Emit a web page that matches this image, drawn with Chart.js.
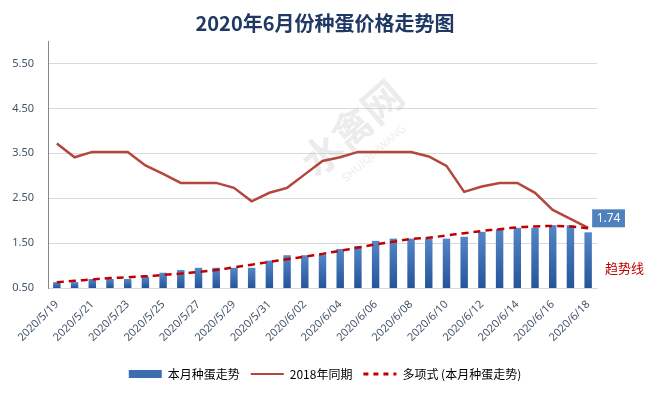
<!DOCTYPE html>
<html>
<head>
<meta charset="utf-8">
<script src="https://cdn.jsdelivr.net/npm/chart.js@4.4.1/dist/chart.umd.min.js"></script>
<style>
  html, body { margin: 0; padding: 0; background: #fff; }
</style>
</head>
<body>
<canvas id="myChart" width="650" height="395"></canvas>
<script>
// dates on the x axis (one per day)
const dates = [
  '2020/5/19', '2020/5/20', '2020/5/21', '2020/5/22', '2020/5/23', '2020/5/24',
  '2020/5/25', '2020/5/26', '2020/5/27', '2020/5/28', '2020/5/29', '2020/5/30',
  '2020/5/31', '2020/6/01', '2020/6/02', '2020/6/03', '2020/6/04', '2020/6/05',
  '2020/6/06', '2020/6/07', '2020/6/08', '2020/6/09', '2020/6/10', '2020/6/11',
  '2020/6/12', '2020/6/13', '2020/6/14', '2020/6/15', '2020/6/16', '2020/6/17',
  '2020/6/18'
]
// 本月种蛋走势 (bars)
const eggPrice = [
  0.63, 0.63, 0.70, 0.70, 0.70, 0.75, 0.84, 0.90, 0.95, 0.95, 0.95, 0.95,
  1.11, 1.23, 1.23, 1.24, 1.37, 1.43, 1.55, 1.60, 1.60, 1.60, 1.60, 1.64,
  1.75, 1.81, 1.84, 1.84, 1.90, 1.90, 1.74
]
// 2018年同期
const lastYear = [
  3.72, 3.41, 3.53, 3.53, 3.53, 3.23, 3.04, 2.84, 2.84, 2.84, 2.73, 2.43,
  2.62, 2.73, 3.03, 3.33, 3.41, 3.53, 3.53, 3.53, 3.53, 3.43, 3.22, 2.64,
  2.76, 2.84, 2.84, 2.62, 2.24, 2.04, 1.84
]
// 多项式 (本月种蛋走势)
const trendLine = [
  0.63, 0.66, 0.69, 0.72, 0.74, 0.76, 0.79, 0.82, 0.86, 0.90, 0.96, 1.02,
  1.08, 1.14, 1.20, 1.26, 1.33, 1.40, 1.47, 1.53, 1.59, 1.62, 1.67, 1.72,
  1.77, 1.81, 1.85, 1.87, 1.88, 1.87, 1.83
]
const yTicks = [0.5, 1.5, 2.5, 3.5, 4.5, 5.5]
const yMin = 0.5
const yMax = 6.0

const seriesNames = ['本月种蛋走势', '2018年同期', '多项式 (本月种蛋走势)']
const barTop = '#5487C6'
const barBottom = '#25549A'
const lineRed = '#B4463C'
const trendRed = '#C00000'

function barFill(context) {
  const chart = context.chart
  if (!chart.chartArea || context.dataIndex === undefined) return barTop
  const y = chart.scales.y
  const top = y.getPixelForValue(eggPrice[context.dataIndex])
  const bottom = y.getPixelForValue(yMin)
  if (!isFinite(top) || !isFinite(bottom) || top === bottom) return barTop
  const g = chart.ctx.createLinearGradient(0, top, 0, bottom)
  g.addColorStop(0, barTop)
  g.addColorStop(1, barBottom)
  return g
}

// faint watermark + the "1.74" label + 趋势线 note
const extras = {
  id: 'extras',
  beforeDatasetsDraw(chart) {
    const ctx = chart.ctx
    ctx.save()
    ctx.translate(352, 128)
    ctx.rotate(-0.72)
    ctx.fillStyle = 'rgba(200,200,200,0.35)'
    ctx.font = 'bold 40px "Noto Sans CJK SC"'
    ctx.textAlign = 'center'
    ctx.textBaseline = 'middle'
    ctx.fillText('水禽网', 0, 0)
    ctx.font = '11px "Noto Sans"'
    ctx.fillText('SHUIQINWANG', 0, 34)
    ctx.restore()
  },
  afterDatasetsDraw(chart) {
    const ctx = chart.ctx
    const meta = chart.getDatasetMeta(0)
    const last = meta.data[meta.data.length - 1]
    const txt = eggPrice[eggPrice.length - 1].toFixed(2)
    ctx.save()
    ctx.font = '12px "Noto Sans"'
    const w = ctx.measureText(txt).width + 9
    const bx = last.x + 4
    const by = last.y - 23
    ctx.fillStyle = '#4F81BD'
    ctx.fillRect(bx, by, w, 18)
    ctx.fillStyle = '#fff'
    ctx.textBaseline = 'middle'
    ctx.fillText(txt, bx + 4.5, by + 9.5)
    ctx.fillStyle = '#C00000'
    ctx.font = '13px "Noto Sans CJK SC"'
    ctx.fillText('趋势线', chart.chartArea.right + 8, 268)
    ctx.restore()
  }
}

const ctx = document.getElementById('myChart').getContext('2d')
const chart = new Chart(ctx, {
  type: 'bar',
  data: {
    labels: dates,
    datasets: [
      {
        type: 'bar',
        label: seriesNames[0],
        data: eggPrice,
        backgroundColor: barFill,
        barPercentage: 0.42,
        categoryPercentage: 1,
        order: 3
      },
      {
        type: 'line',
        label: seriesNames[1],
        data: lastYear,
        borderColor: lineRed,
        borderWidth: 2.5,
        pointRadius: 0,
        tension: 0,
        order: 2
      },
      {
        type: 'line',
        label: seriesNames[2],
        data: trendLine,
        borderColor: trendRed,
        borderWidth: 2.5,
        borderDash: [7, 5],
        pointRadius: 0,
        tension: 0.4,
        order: 1
      }
    ]
  },
  plugins: [extras],
  options: {
    responsive: false,
    animation: false,
    layout: { padding: { left: 0, right: 0, top: 0, bottom: 5 } },
    plugins: {
      title: {
        display: true,
        text: '2020年6月份种蛋价格走势图',
        color: '#1F3864',
        font: { family: '"Noto Sans CJK SC"', size: 20, weight: 'bold' },
        padding: { top: 11, bottom: 6 }
      },
      legend: {
        position: 'bottom',
        labels: {
          usePointStyle: true,
          pointStyleWidth: 33,
          boxHeight: 8,
          padding: 11,
          color: '#404040',
          font: { family: '"Noto Sans CJK SC"', size: 12 },
          generateLabels: () => [
            { text: seriesNames[0], pointStyle: 'rect', fillStyle: '#3C6DB0', strokeStyle: '#3C6DB0', lineWidth: 0, datasetIndex: 0 },
            { text: seriesNames[1], pointStyle: 'line', fillStyle: lineRed, strokeStyle: lineRed, lineWidth: 2, datasetIndex: 1 },
            { text: seriesNames[2], pointStyle: 'line', fillStyle: trendRed, strokeStyle: trendRed, lineWidth: 3, lineDash: [5, 5], datasetIndex: 2 }
          ]
        }
      },
      tooltip: { enabled: false }
    },
    scales: {
      x: {
        grid: { display: false },
        border: { color: '#D9D9D9', width: 1 },
        ticks: {
          autoSkip: false,
          maxRotation: 45,
          minRotation: 45,
          padding: 2,
          color: '#44546A',
          font: { family: '"Noto Sans"', size: 11 },
          callback: (v, i) => (i % 2 === 0 ? dates[i] : '')
        },
        afterFit: (s) => { s.height = 69 }
      },
      y: {
        min: yMin,
        max: yMax,
        afterBuildTicks: (s) => { s.ticks = yTicks.map(v => ({ value: v })) },
        grid: {
          drawTicks: false,
          color: (c) => (c.tick && c.tick.value === yMin ? 'rgba(0,0,0,0)' : '#D9D9D9')
        },
        border: { color: '#868686', width: 1 },
        ticks: {
          padding: 14,
          color: '#44546A',
          font: { family: '"Noto Sans"', size: 11 },
          callback: (v) => Number(v).toFixed(2)
        },
        afterFit: (s) => { s.width = 48 }
      },
      // empty right-hand strip that keeps room for the label and note
      yRight: {
        position: 'right',
        min: yMin,
        max: yMax,
        grid: { display: false, drawTicks: false },
        border: { display: false },
        ticks: { display: false },
        afterFit: (s) => { s.width = 53 }
      }
    }
  }
})
</script>
</body>
</html>
